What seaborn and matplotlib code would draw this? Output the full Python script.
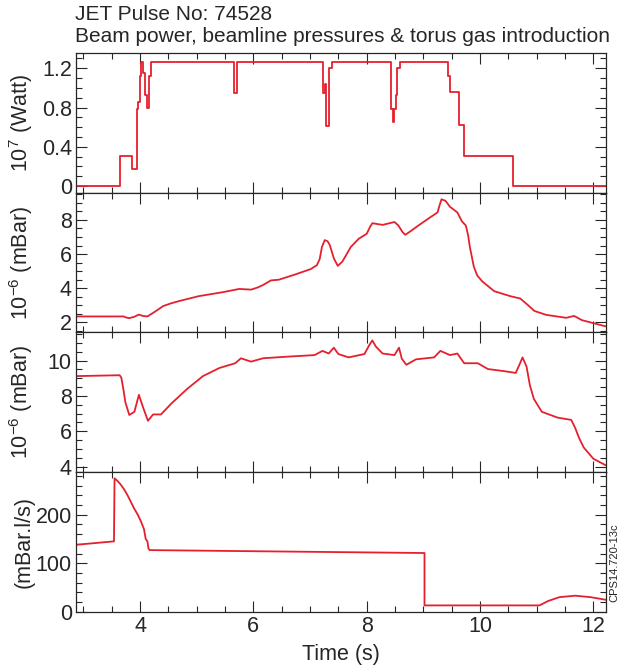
import pandas as pd
import matplotlib
matplotlib.use('Agg')
import matplotlib.pyplot as plt
import seaborn as sns
from matplotlib.ticker import MultipleLocator

# beam power (1e7 W), step levels held until the next time
t_power = [2.87, 3.65, 3.86, 3.94, 3.97, 4.00, 4.02, 4.05, 4.09, 4.13, 4.16, 4.19, 5.65, 5.71,
           7.22, 7.26, 7.28, 7.34, 7.38, 8.42, 8.46, 8.48, 8.51, 8.54, 8.59, 9.44, 9.47, 9.63,
           9.71, 10.58, 12.25]
power = [0.0, 0.31, 0.17, 0.78, 0.86, 1.12, 1.265, 1.15, 0.93, 0.8, 1.12, 1.265, 0.95, 1.265,
         0.95, 1.04, 0.61, 1.2, 1.265, 0.78, 0.65, 0.78, 0.93, 1.2, 1.265, 1.12, 0.96, 0.62,
         0.31, 0.0, 0.0]

# beamline pressure 1 (1e-6 mBar)
t_p1 = [2.87, 3.71, 3.76, 3.81, 3.90, 3.98, 4.05, 4.13, 4.25, 4.41, 4.55, 4.69, 5.04, 5.46,
        5.75, 5.96, 6.08, 6.17, 6.31, 6.45, 6.73, 7.01, 7.12, 7.17, 7.21, 7.26, 7.31, 7.35,
        7.42, 7.49, 7.57, 7.72, 7.86, 8.00, 8.06, 8.10, 8.28, 8.49, 8.56, 8.63, 8.68, 8.77,
        8.91, 9.12, 9.25, 9.29, 9.32, 9.39, 9.47, 9.60, 9.68, 9.75, 9.79, 9.82, 9.89, 9.95,
        10.04, 10.25, 10.53, 10.71, 10.85, 10.96, 11.17, 11.52, 11.66, 11.80, 12.24]
p1 = [2.35, 2.35, 2.28, 2.25, 2.33, 2.46, 2.38, 2.35, 2.6, 2.96, 3.12, 3.25, 3.54, 3.77,
      3.96, 3.92, 4.05, 4.19, 4.46, 4.5, 4.8, 5.12, 5.35, 5.7, 6.42, 6.82, 6.75, 6.52,
      5.75, 5.31, 5.56, 6.42, 6.9, 7.19, 7.6, 7.81, 7.71, 7.88, 7.67, 7.3, 7.13, 7.33,
      7.67, 8.15, 8.44, 8.9, 9.21, 9.12, 8.77, 8.44, 7.92, 7.67, 7.1, 6.42, 5.27, 4.75,
      4.4, 3.83, 3.54, 3.4, 3.0, 2.67, 2.44, 2.27, 2.38, 2.13, 1.75]

# beamline pressure 2 (1e-6 mBar)
t_p2 = [2.87, 3.64, 3.67, 3.71, 3.74, 3.81, 3.90, 3.95, 3.98, 4.05, 4.14, 4.23, 4.37, 4.55,
        4.83, 5.11, 5.40, 5.68, 5.78, 5.96, 6.17, 6.59, 7.08, 7.22, 7.33, 7.42, 7.50, 7.68,
        7.96, 8.05, 8.10, 8.16, 8.28, 8.49, 8.57, 8.62, 8.70, 8.87, 9.19, 9.30, 9.47, 9.60,
        9.72, 9.96, 10.14, 10.45, 10.63, 10.70, 10.75, 10.82, 10.88, 10.95, 11.09, 11.37, 11.61,
        11.68, 11.75, 11.83, 12.00, 12.22]
p2 = [9.12, 9.17, 9.03, 8.3, 7.65, 6.92, 7.1, 7.7, 8.06, 7.38, 6.59, 6.95, 6.95, 7.56,
      8.39, 9.12, 9.58, 9.85, 10.13, 9.94, 10.13, 10.22, 10.31, 10.55, 10.4, 10.73, 10.37, 10.18,
      10.37, 10.9, 11.14, 10.8, 10.4, 10.31, 10.73, 10.1, 9.76, 10.07, 10.18, 10.55, 10.31, 10.4,
      9.85, 9.85, 9.52, 9.39, 9.3, 9.8, 10.18, 9.67, 8.6, 7.83, 7.1, 6.77, 6.64,
      6.18, 5.6, 5.08, 4.44, 4.07]

# torus gas introduction (mBar.l/s)
t_gas = [2.87, 3.54, 3.55, 3.60, 3.66, 3.72, 3.78, 3.84, 3.90, 3.96, 4.02, 4.07, 4.10, 4.13,
         4.15, 4.17, 9.02, 9.02, 11.05, 11.2, 11.4, 11.68, 11.95, 12.25]
gas = [138, 145, 275, 270, 262, 252, 240, 226, 212, 200, 185, 170, 150, 145,
       130, 127, 121, 13, 13, 22, 30, 33, 30, 24]

red = '#e5202e'
fs = 15.5

sns.set_style('ticks')
plt.rcParams['font.family'] = ['Liberation Sans', 'DejaVu Sans']
plt.rcParams['mathtext.fontset'] = 'custom'
plt.rcParams['mathtext.rm'] = 'Liberation Sans'
plt.rcParams['mathtext.it'] = 'Liberation Sans:italic'

fig, axes = plt.subplots(4, 1, figsize=(6.22, 6.70), dpi=100, sharex=True,
                         gridspec_kw=dict(hspace=0))
fig.subplots_adjust(left=0.1222, right=0.974, top=0.921, bottom=0.087)

sns.lineplot(x=t_power, y=power, ax=axes[0], color=red, lw=1.3, estimator=None, sort=False,
             drawstyle='steps-post')
sns.lineplot(x=t_p1, y=p1, ax=axes[1], color=red, lw=1.3, estimator=None, sort=False)
sns.lineplot(x=t_p2, y=p2, ax=axes[2], color=red, lw=1.3, estimator=None, sort=False)
sns.lineplot(x=t_gas, y=gas, ax=axes[3], color=red, lw=1.3, estimator=None, sort=False)

axes[0].set_ylim(-0.067, 1.356)
axes[0].set_yticks([0, 0.4, 0.8, 1.2], ['0', '0.4', '0.8', '1.2'])
axes[0].yaxis.set_minor_locator(MultipleLocator(0.1))
axes[0].set_ylabel('$10^{7}$ (Watt)')

axes[1].set_ylim(1.42, 9.6)
axes[1].set_yticks([2, 4, 6, 8])
axes[1].yaxis.set_minor_locator(MultipleLocator(0.5))
axes[1].set_ylabel('$10^{-6}$ (mBar)')

axes[2].set_ylim(3.69, 11.6)
axes[2].set_yticks([4, 6, 8, 10])
axes[2].yaxis.set_minor_locator(MultipleLocator(0.5))
axes[2].set_ylabel('$10^{-6}$ (mBar)')

axes[3].set_ylim(0, 288)
axes[3].set_yticks([0, 100, 200])
axes[3].yaxis.set_minor_locator(MultipleLocator(20))
axes[3].set_ylabel('(mBar.l/s)')

axes[3].set_xlim(2.87, 12.22)
axes[3].set_xticks([4, 6, 8, 10, 12])
axes[3].xaxis.set_minor_locator(MultipleLocator(0.5))
axes[3].set_xlabel('Time (s)', fontsize=fs, labelpad=5)

for ax in axes:
    ax.tick_params(which='both', direction='in', top=True, right=True, width=0.8,
                   labelsize=fs, pad=3)
    ax.tick_params(which='major', length=8)
    ax.tick_params(which='minor', length=4.5)
    ax.yaxis.label.set_size(fs)
    ax.yaxis.set_label_coords(-0.078, 0.5)
    for s in ax.spines.values():
        s.set_linewidth(0.9)

fig.text(0.121, 0.979, 'JET Pulse No: 74528', fontsize=15, va='center', ha='left')
fig.text(0.121, 0.945, 'Beam power, beamline pressures & torus gas introduction',
         fontsize=15, va='center', ha='left')
fig.text(0.987, 0.16, 'CPS14.720-13c', rotation=90, fontsize=8, ha='center', va='center')

plt.savefig('out.png', dpi=100)
